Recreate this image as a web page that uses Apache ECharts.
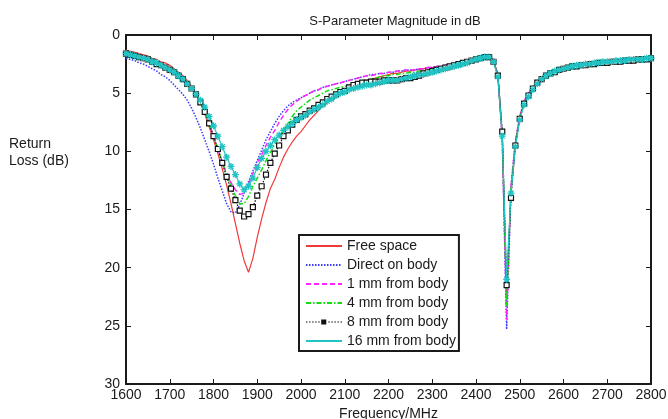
<!DOCTYPE html>
<html>
<head>
<meta charset="utf-8">
<script src="https://cdn.jsdelivr.net/npm/echarts@6/dist/echarts.min.js"></script>
<style>html,body{margin:0;padding:0;background:#fff;overflow:hidden}#c{width:668px;height:419px}</style>
</head>
<body>
<div id="c"></div>
<script>
// Frequency samples (MHz)
const freq = [
1600,1610,1620,1630,1640,1650,1660,1670,1680,1690,
1700,1710,1720,1730,1740,1750,1760,1770,1780,1790,
1800,1810,1820,1830,1840,1850,1860,1870,1880,1890,
1900,1910,1920,1930,1940,1950,1960,1970,1980,1990,
2000,2010,2020,2030,2040,2050,2060,2070,2080,2090,
2100,2110,2120,2130,2140,2150,2160,2170,2180,2190,
2200,2210,2220,2230,2240,2250,2260,2270,2280,2290,
2300,2310,2320,2330,2340,2350,2360,2370,2380,2390,
2400,2410,2420,2430,2440,2450,2460,2470,2480,2490,
2500,2510,2520,2530,2540,2550,2560,2570,2580,2590,
2600,2610,2620,2630,2640,2650,2660,2670,2680,2690,
2700,2710,2720,2730,2740,2750,2760,2770,2780,2790,
2800];

// Return loss (dB) per configuration
const freeSpace = [
1.3,1.4,1.5,1.6,1.7,1.8,2.0,2.1,2.3,2.4,
2.6,2.9,3.2,3.5,3.9,4.4,5.0,5.8,6.8,7.9,
9.0,10.2,11.5,12.9,14.5,16.2,17.9,19.4,20.4,19.2,
17.4,15.8,14.4,13.2,12.4,11.4,10.5,9.8,9.2,8.7,
8.3,7.8,7.3,6.9,6.5,6.1,5.8,5.5,5.3,5.1,
4.9,4.6,4.4,4.2,4.0,3.9,3.8,3.7,3.6,3.5,
3.4,3.3,3.3,3.2,3.1,3.1,3.0,3.0,2.9,2.8,
2.8,2.7,2.7,2.6,2.6,2.5,2.4,2.3,2.2,2.1,
2.0,1.9,1.8,1.8,2.2,3.4,8.6,22.5,13.5,9.4,
7.1,5.8,5.1,4.6,4.1,3.7,3.4,3.2,3.0,2.9,
2.8,2.7,2.6,2.6,2.5,2.5,2.4,2.4,2.3,2.3,
2.3,2.2,2.2,2.2,2.1,2.1,2.1,2.1,2.0,2.0,
2.0];

const onBody = [
2.0,2.1,2.2,2.4,2.5,2.7,2.9,3.1,3.4,3.6,
3.9,4.3,4.7,5.1,5.6,6.3,7.1,8.0,9.0,10.0,
11.1,12.3,13.4,14.5,15.2,15.3,14.6,13.6,12.6,11.7,
10.8,9.9,9.0,8.3,7.6,7.0,6.5,6.1,5.8,5.6,
5.4,5.2,5.0,4.8,4.7,4.5,4.4,4.3,4.2,4.1,
4.0,3.9,3.8,3.7,3.6,3.5,3.4,3.4,3.3,3.3,
3.2,3.2,3.1,3.1,3.0,3.0,3.0,2.9,2.9,2.8,
2.8,2.7,2.7,2.6,2.6,2.5,2.4,2.3,2.2,2.1,
2.0,1.9,1.8,1.8,2.2,3.4,8.9,25.3,13.0,9.2,
7.0,5.7,5.0,4.5,4.0,3.6,3.3,3.1,3.0,2.9,
2.8,2.7,2.6,2.6,2.5,2.5,2.4,2.4,2.3,2.3,
2.3,2.2,2.2,2.2,2.1,2.1,2.1,2.1,2.0,2.0,
2.0];

const mm1 = [
1.6,1.7,1.8,1.9,2.0,2.1,2.3,2.5,2.6,2.8,
3.0,3.2,3.5,3.8,4.2,4.6,5.1,5.8,6.6,7.6,
8.7,9.8,10.9,11.9,12.7,13.3,13.7,13.6,12.8,11.9,
11.0,10.3,9.5,8.8,8.2,7.5,6.9,6.4,6.0,5.7,
5.4,5.2,5.0,4.8,4.7,4.5,4.4,4.3,4.2,4.1,
4.0,3.9,3.8,3.7,3.6,3.5,3.5,3.4,3.3,3.3,
3.2,3.2,3.1,3.1,3.0,3.0,3.0,2.9,2.9,2.8,
2.8,2.7,2.7,2.6,2.6,2.5,2.4,2.3,2.2,2.1,
2.0,1.9,1.8,1.8,2.2,3.4,8.8,24.5,13.0,9.2,
7.0,5.7,5.0,4.5,4.0,3.6,3.4,3.2,3.0,2.9,
2.8,2.7,2.6,2.6,2.5,2.5,2.4,2.4,2.3,2.3,
2.3,2.2,2.2,2.2,2.1,2.1,2.1,2.1,2.0,2.0,
2.0];

const mm4 = [
1.6,1.7,1.8,1.9,2.0,2.1,2.3,2.5,2.6,2.8,
3.0,3.2,3.5,3.8,4.2,4.6,5.1,5.8,6.6,7.6,
8.7,9.8,10.9,12.0,13.0,13.8,14.5,14.5,13.9,13.0,
12.3,11.6,10.8,10.1,9.4,8.8,8.2,7.6,7.0,6.5,
6.2,5.9,5.6,5.4,5.2,5.0,4.8,4.7,4.6,4.5,
4.4,4.3,4.2,4.1,4.0,3.9,3.8,3.7,3.6,3.5,
3.5,3.4,3.4,3.3,3.3,3.2,3.2,3.1,3.1,3.0,
3.0,2.9,2.8,2.8,2.7,2.6,2.5,2.4,2.3,2.2,
2.1,2.0,1.9,1.9,2.2,3.5,8.6,23.3,13.3,9.4,
7.1,5.8,5.1,4.6,4.1,3.7,3.4,3.2,3.1,2.9,
2.8,2.7,2.7,2.6,2.6,2.5,2.5,2.4,2.4,2.3,
2.3,2.3,2.2,2.2,2.2,2.1,2.1,2.1,2.0,2.0,
2.0];

const mm8 = [
1.6,1.7,1.8,1.9,2.0,2.1,2.3,2.5,2.6,2.8,
3.0,3.2,3.5,3.8,4.2,4.6,5.1,5.8,6.6,7.6,
8.7,9.8,11.0,12.2,13.2,14.2,15.1,15.6,15.4,14.8,
13.8,13.0,12.0,11.0,10.2,9.5,8.7,8.2,7.7,7.3,
7.0,6.8,6.5,6.3,6.0,5.8,5.5,5.3,5.1,4.9,
4.8,4.5,4.3,4.2,4.1,4.1,4.0,4.0,4.0,3.9,
3.9,3.9,3.9,3.8,3.7,3.7,3.6,3.5,3.3,3.2,
3.1,3.0,2.9,2.8,2.7,2.6,2.5,2.4,2.3,2.2,
2.1,2.0,1.9,1.9,2.3,3.5,8.3,21.5,14.0,9.5,
7.2,5.9,5.2,4.6,4.1,3.8,3.5,3.3,3.2,3.0,
2.9,2.8,2.7,2.7,2.6,2.6,2.5,2.5,2.4,2.4,
2.4,2.3,2.3,2.3,2.2,2.2,2.2,2.1,2.1,2.1,
2.0];

const mm16 = [
1.6,1.7,1.8,1.9,2.0,2.1,2.3,2.4,2.6,2.8,
3.0,3.2,3.5,3.8,4.2,4.6,5.1,5.6,6.2,7.0,
7.8,8.7,9.6,10.5,11.3,12.0,12.8,13.3,13.0,12.3,
11.4,10.6,10.0,9.5,9.0,8.6,8.2,7.9,7.6,7.3,
7.1,6.9,6.6,6.4,6.2,6.0,5.7,5.5,5.2,5.0,
4.9,4.7,4.6,4.5,4.4,4.3,4.3,4.2,4.1,4.0,
3.9,3.9,3.9,3.8,3.7,3.6,3.5,3.4,3.4,3.3,
3.2,3.1,3.0,2.9,2.8,2.7,2.6,2.5,2.4,2.2,
2.1,2.0,1.9,1.9,2.3,3.6,8.7,21.0,13.6,9.6,
7.3,6.0,5.3,4.7,4.2,3.8,3.5,3.3,3.1,3.0,
2.9,2.8,2.7,2.6,2.6,2.5,2.5,2.4,2.4,2.3,
2.3,2.3,2.2,2.2,2.2,2.1,2.1,2.1,2.1,2.0,
2.0];

const seriesNames = ['Free space','Direct on body','1 mm from body','4 mm from body','8 mm from body','16 mm from body'];
const xTicks = {min:1600, max:2800, step:100};
const yTicks = {min:0, max:30, step:5};

const pairs = arr => freq.map((f,i)=>[f, arr[i]]);
const FONT = '"Liberation Sans", Arial, sans-serif';
const ink = '#1a1a1a';
const star = 'path://M5,0L5,10M0,5L10,5M1.5,1.5L8.5,8.5M8.5,1.5L1.5,8.5';
// legend glyph for "8 mm": dotted line with a small hollow square in the middle
const dotSquareIcon = 'path://' +
  'M0,6.4h1.5v1.2h-1.5zM3,6.4h1.5v1.2h-1.5zM6,6.4h1.5v1.2h-1.5zM9,6.4h1.5v1.2h-1.5zM12,6.4h1.5v1.2h-1.5z' +
  'M15,4.5h5v5h-5zM16.1,8.4v-2.8h2.8v2.8z' +
  'M22,6.4h1.5v1.2h-1.5zM25,6.4h1.5v1.2h-1.5zM28,6.4h1.5v1.2h-1.5zM31,6.4h1.5v1.2h-1.5zM34,6.4h1.5v1.2h-1.5z';
const hideSym = {color:'rgba(0,0,0,0)', borderColor:'rgba(0,0,0,0)', borderWidth:0};

const chart = echarts.init(document.getElementById('c'), null, {renderer:'canvas', width:668, height:419});
const axisCommon = () => ({
  axisLine:{show:true, onZero:false, lineStyle:{color:ink, width:2}},
  axisTick:{show:true, inside:true, length:5, lineStyle:{color:ink, width:1}},
  splitLine:{show:false}
});
const plain = v => String(v);
chart.setOption({
  animation:false,
  backgroundColor:'#fff',
  title:{text:'S-Parameter Magnitude in dB', left:390, textAlign:'center', top:10,
    textStyle:{fontFamily:FONT, fontSize:13, fontWeight:'normal', color:ink}},
  grid:{left:126, top:35, width:525, height:349, containLabel:false, outerBoundsMode:'none'},
  legend:{
    data:[
      {name:seriesNames[0], itemStyle:hideSym},
      {name:seriesNames[1], itemStyle:hideSym},
      {name:seriesNames[2], itemStyle:hideSym},
      {name:seriesNames[3], itemStyle:hideSym},
      {name:seriesNames[4], icon:dotSquareIcon, itemStyle:{color:'#111', borderWidth:0}},
      {name:seriesNames[5], itemStyle:hideSym}
    ],
    orient:'vertical', left:299, top:235,
    itemWidth:36, itemHeight:14, itemGap:5,
    padding:[4,3,3,6],
    borderColor:ink, borderWidth:2, backgroundColor:'#fff',
    textStyle:{fontFamily:FONT, fontSize:14, color:ink}
  },
  graphic:[{type:'text', left:9, top:136,
    style:{text:'Return\nLoss (dB)', font:'14px '+FONT, fill:ink, lineHeight:17}}],
  xAxis:[
    Object.assign(axisCommon(), {type:'value', min:xTicks.min, max:xTicks.max, interval:xTicks.step, position:'bottom',
      name:'Frequency/MHz', nameLocation:'middle', nameGap:20,
      nameTextStyle:{fontFamily:FONT, fontSize:14, color:ink},
      axisLabel:{fontFamily:FONT, fontSize:14, color:ink, margin:4, formatter:plain}}),
    Object.assign(axisCommon(), {type:'value', min:xTicks.min, max:xTicks.max, interval:xTicks.step, position:'top',
      axisLabel:{show:false}})
  ],
  yAxis:[
    Object.assign(axisCommon(), {type:'value', inverse:true, min:yTicks.min, max:yTicks.max, interval:yTicks.step, position:'left',
      axisLabel:{fontFamily:FONT, fontSize:14, color:ink, margin:6, formatter:plain}}),
    Object.assign(axisCommon(), {type:'value', inverse:true, min:yTicks.min, max:yTicks.max, interval:yTicks.step, position:'right',
      axisLabel:{show:false}})
  ],
  series:[
    {name:seriesNames[0], type:'line', data:pairs(freeSpace), showSymbol:false, symbol:'none',
      lineStyle:{color:'#f03a3a', width:1.2, type:'solid'}, itemStyle:{color:'#f03a3a'}},
    {name:seriesNames[1], type:'line', data:pairs(onBody), showSymbol:false, symbol:'none',
      lineStyle:{color:'#3b3bff', width:1.5, type:[1.5,1.5]}, itemStyle:{color:'#3b3bff'}},
    {name:seriesNames[2], type:'line', data:pairs(mm1), showSymbol:false, symbol:'none',
      lineStyle:{color:'#ff22ff', width:1.5, type:[5,3]}, itemStyle:{color:'#ff22ff'}},
    {name:seriesNames[3], type:'line', data:pairs(mm4), showSymbol:false, symbol:'none',
      lineStyle:{color:'#11dd11', width:1.5, type:[5,2,1.5,2]}, itemStyle:{color:'#11dd11'}},
    {name:seriesNames[4], type:'line', data:pairs(mm8), symbol:'rect', symbolSize:5, showSymbol:true,
      lineStyle:{color:'#111', width:1.2, type:[1.5,1.5]},
      itemStyle:{color:'#fff', borderColor:'#111', borderWidth:1.2}},
    {name:seriesNames[5], type:'line', data:pairs(mm16), symbol:star, symbolSize:7, showSymbol:true,
      lineStyle:{color:'#20c4c4', width:1.2, type:'solid'},
      itemStyle:{color:'rgba(0,0,0,0)', borderColor:'#20c4c4', borderWidth:1.3}}
  ]
});
</script>
</body>
</html>
